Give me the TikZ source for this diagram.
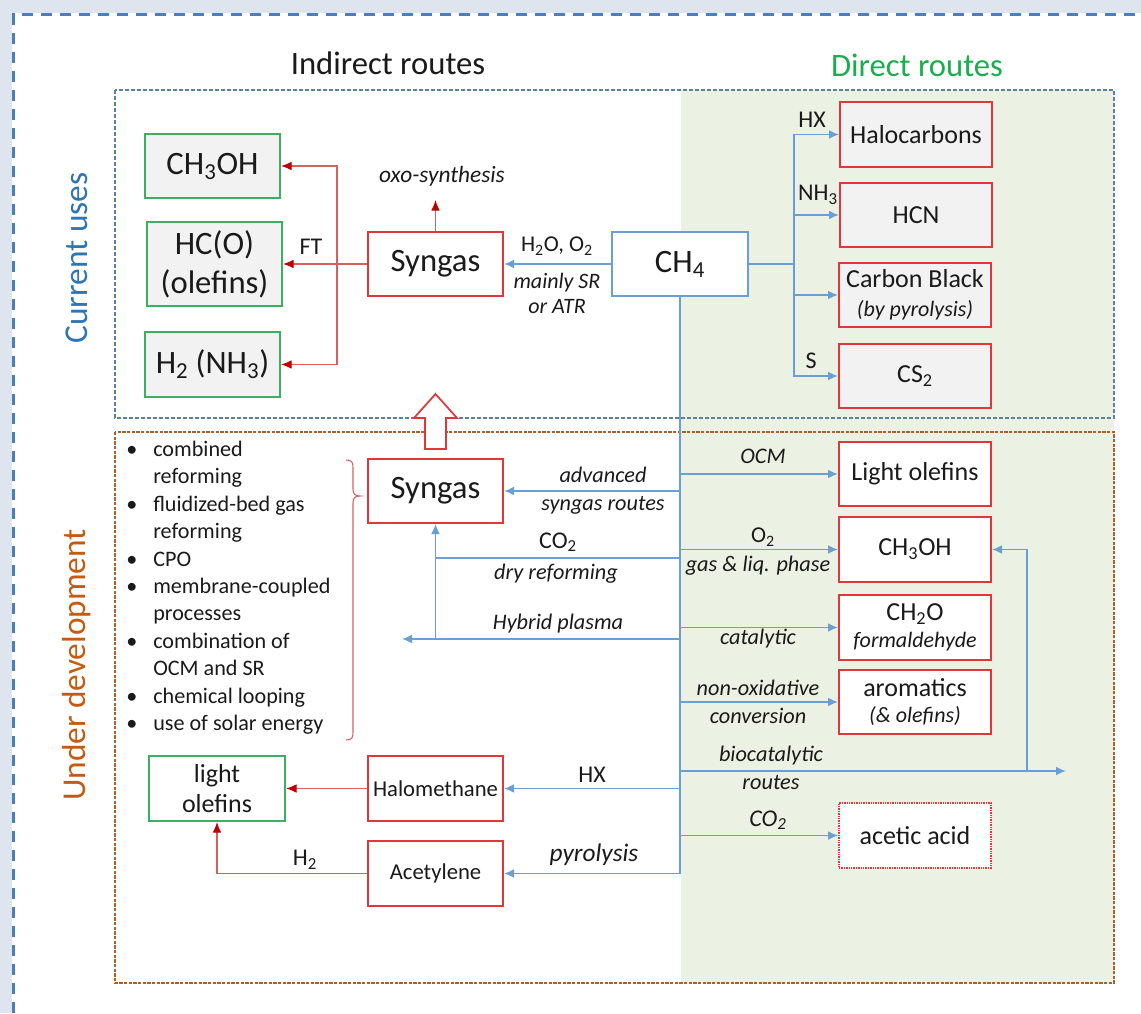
\documentclass[tikz,border=0pt]{standalone}
\usepackage{fontspec}
\setmainfont{Carlito}
\usetikzlibrary{arrows.meta}
\definecolor{bgout}{HTML}{DFE5EE}
\definecolor{shadeg}{HTML}{EBF1E3}
\definecolor{lblue}{HTML}{6A9FD6}
\definecolor{outerblue}{HTML}{4A7EBF}
\definecolor{cuframe}{HTML}{5A7FA8}
\definecolor{udframe}{HTML}{A8602E}
\definecolor{boxred}{HTML}{E0383A}
\definecolor{arrred}{HTML}{C00000}
\definecolor{lred}{HTML}{D66060}
\definecolor{boxgreen}{HTML}{3DAE63}
\definecolor{gfill}{HTML}{F2F2F2}
\definecolor{cublue}{HTML}{2E75B6}
\definecolor{udorange}{HTML}{C55A11}
\definecolor{drgreen}{HTML}{1AAE4E}
\definecolor{txt}{HTML}{1A1A1A}
\begin{document}
\begin{tikzpicture}[x=0.75pt,y=-0.75pt,
  every node/.style={text=txt},
  big/.style={font=\fontsize{24.5}{29}\selectfont},
  title/.style={font=\fontsize{24.5}{29}\selectfont},
  vlab/.style={font=\fontsize{25}{30}\selectfont, rotate=90},
  mid/.style={font=\fontsize{19.5}{23}\selectfont},
  sml/.style={font=\fontsize{18}{21}\selectfont},
  hal/.style={font=\fontsize{17}{20}\selectfont},
  ital/.style={font=\fontsize{16.7}{21}\selectfont\itshape},
  wh/.style 2 args={minimum width=#1*0.75pt, minimum height=#2*0.75pt},
  gbox/.style={draw=boxgreen, fill=gfill, line width=1.5pt, inner sep=0pt, align=center},
  gwbox/.style={gbox, fill=white},
  rbox/.style={draw=boxred, fill=white, line width=1.5pt, inner sep=0pt, align=center},
  rgbox/.style={rbox, fill=gfill},
  rdbox/.style={rbox, dash pattern=on 1pt off 0.8pt, line width=1.2pt},
  ch4box/.style={draw=lblue, fill=white, line width=1.5pt, inner sep=0pt, align=center},
  bline/.style={draw=lblue, line width=1.1pt},
  barr/.style={bline, -{Latex[length=7.5pt,width=6.5pt]}},
  rline/.style={draw=lred, line width=0.9pt},
  rarr/.style={rline, -{Latex[length=8pt,width=6.5pt,color=arrred]}},
  outerb/.style={draw=outerblue, line width=2.25pt, dash pattern=on 8.25pt off 6pt},
  cubox/.style={draw=cuframe, line width=0.8pt, dash pattern=on 3pt off 1.5pt},
  udbox/.style={draw=udframe, line width=0.9pt, dash pattern=on 2.5pt off 1pt}
]
\useasboundingbox (0,0) rectangle (1141,1013);
\fill[bgout] (0,0) rectangle (1141,1013);
\fill[white] (12,13) rectangle (1141,1013);
\draw[outerb] (13.5,1013) -- (13.5,14.5) -- (1141,14.5);
\fill[shadeg] (681,90) rectangle (1114,983);
\draw[cubox] (115,90) rectangle (1114,418);
\draw[udbox] (115,432) rectangle (1114,983);

% titles
\node[title] (tind) at (388,63) {Indirect routes};
\node[title, text=drgreen] (tdir) at (917,65) {Direct routes};
\node[vlab, text=cublue] (vcu) at (77,258) {Current uses};
\node[vlab, text=udorange] (vud) at (77,665) {Under development};

% current uses boxes
\node[gbox,wh={135}{64},big] (m1) at (212.5,166) {CH\textsubscript{3}OH};
\node[gbox,wh={135}{84},big] (hc) at (214.5,264) {HC(O)\\(olefins)};
\node[gbox,wh={135}{65},big] (h2) at (212.5,364.5) {H\textsubscript{2} (NH\textsubscript{3})};
\node[rbox,wh={135}{64},big] (s1) at (435.5,264) {Syngas};
\node[ch4box,wh={136}{64},big] (ch4) at (680,264) {CH\textsubscript{4}};
\node[rgbox,wh={152}{64},mid] (halo) at (916,134.5) {Halocarbons};
\node[rgbox,wh={152}{64},mid] (hcn) at (916,215) {HCN};
\node[rgbox,wh={152}{64},mid] (cb) at (915,295) {Carbon Black\\[-1pt]{\fontsize{16.5}{19}\selectfont\itshape (by pyrolysis)}};
\node[rgbox,wh={152}{64},mid] (cs2) at (915,376) {CS\textsubscript{2}};

% under development boxes
\node[rbox,wh={135}{64},big] (s2) at (435.5,491) {Syngas};
\node[rbox,wh={152}{64},mid] (lo1) at (915,474) {Light olefins};
\node[rbox,wh={152}{65},mid] (m2) at (915,549.5) {CH\textsubscript{3}OH};
\node[rbox,wh={152}{65},mid] (fa) at (915,627.5) {CH\textsubscript{2}O\\[-3pt]{\fontsize{16.5}{19}\selectfont\itshape formaldehyde}};
\node[rbox,wh={152}{64},mid] (aro) at (915,702) {aromatics\\[-3pt]{\fontsize{16.5}{19}\selectfont\itshape (\& olefins)}};
\node[rdbox,wh={152}{65},mid] (aa) at (915,835.5) {acetic acid};
\node[gwbox,wh={136}{65},mid] (lo2) at (217,788.5) {light\\olefins};
\node[rbox,wh={135}{65},hal] (hm) at (435.5,788.5) {Halomethane};
\node[rbox,wh={135}{65},hal] (ac) at (435.5,873.5) {Acetylene};

% bullet list
\node[anchor=west, inner sep=0pt, font=\fontsize{16.6}{20.6}\selectfont] (blist) at (126,588) {%
\begin{tabular}{@{}l@{\hspace{12pt}}l@{}}
\textbullet & combined\\
 & reforming\\
\textbullet & fluidized-bed gas\\
 & reforming\\
\textbullet & CPO\\
\textbullet & membrane-coupled\\
 & processes\\
\textbullet & combination of\\
 & OCM and SR\\
\textbullet & chemical looping\\
\textbullet & use of solar energy
\end{tabular}};

% brace
\draw[lred, line width=0.8pt] (346,460) .. controls (352,460) and (353,462) .. (353,468) -- (353,489) .. controls (353,494) and (355,496) .. (360,496) .. controls (355,496) and (353,498) .. (353,503) -- (353,732) .. controls (353,738) and (352,740) .. (346,740);

% hollow arrow
\draw[boxred, fill=white, line width=1.3pt] (425,449) -- (425,418) -- (414,418) -- (435.5,394) -- (457,418) -- (446,418) -- (446,449) -- cycle;

% top connectors
\coordinate (jt) at (337,264);
\draw[rline] (s1.west) -- (jt);
\draw[rarr] (jt) -- (hc.east);
\draw[rarr] (jt) |- (m1.east);
\draw[rarr] (jt) |- (h2.east);
\coordinate (oxo) at (435.5,200);
\draw[rarr] (s1.north) -- (oxo);
\draw[barr] (ch4.west) -- (s1.east);
\coordinate (jr) at (794,264);
\draw[bline] (ch4.east) -- (jr);
\draw[barr] (jr) |- (halo.west);
\draw[barr] (jr) |- (hcn.west);
\draw[barr] (jr) |- (cb.west);
\draw[barr] (jr) |- (cs2.west);

% vertical CH4 trunk
\draw[bline, line width=1.4pt] (ch4.south) -- (ch4.south |- ac.east);

% lower connectors
\draw[barr] (ch4.south |- lo1.west) -- (lo1.west);
\draw[barr] (ch4.south |- m2.west) -- (m2.west);
\draw[barr] (ch4.south |- fa.west) -- (fa.west);
\draw[barr] (ch4.south |- aro.west) -- (aro.west);
\draw[barr] (ch4.south |- aa.west) -- (aa.west);
\draw[barr] (ch4.south |- s2.east) -- (s2.east);
\coordinate (dr) at (681,558);
\coordinate (hp) at (681,639);
\coordinate (hpe) at (402,639);
\draw[bline] (ch4.south |- dr) -- (s2.south |- dr);
\draw[barr] (ch4.south |- hp) -- (hpe);
\draw[barr] (s2.south |- hp) -- (s2.south);
\coordinate (bio) at (1066,771);
\coordinate (fb) at (1027,771);
\draw[barr] (ch4.south |- bio) -- (bio);
\draw[barr] (fb) |- (m2.east);
\draw[barr] (ch4.south |- hm.east) -- (hm.east);
\draw[barr] (ch4.south |- ac.east) -- (ac.east);
\draw[rarr] (hm.west) -- (lo2.east);
\draw[rarr] (ac.west) -| (lo2.south);

% labels
\node[sml] (lft) at (311,247) {FT};
\node[font=\fontsize{17.5}{21}\selectfont\itshape] (loxo) at (442,176) {oxo-synthesis};
\node[font=\fontsize{17}{21}\selectfont] (lh2o) at (557,246) {H\textsubscript{2}O, O\textsubscript{2}};
\node[font=\fontsize{16.5}{19}\selectfont\itshape, align=center] (lsr) at (557,293.5) {mainly SR\\or ATR};
\node[sml] (lhx) at (812,120) {HX};
\node[sml] (lnh3) at (818,195) {NH\textsubscript{3}};
\node[sml] (ls) at (811,361) {S};

\node[ital, align=center] (ladv) at (603,491) {advanced\\syngas routes};
\node[sml] (lco2) at (558,542) {CO\textsubscript{2}};
\node[ital] (ldry) at (556,574) {dry reforming};
\node[ital] (lhyb) at (558,624) {Hybrid plasma};
\node[ital] (locm) at (763,456) {OCM};
\node[font=\fontsize{17}{21}\selectfont] (lo2l) at (763,537) {O\textsubscript{2}};
\node[ital] (lgas) at (758,566) {gas \& liq. phase};
\node[ital] (lcat) at (758,639) {catalytic};
\node[ital, align=center] (lnon) at (758,701.5) {non-oxidative\\conversion};
\node[ital, align=center] (lbio) at (771,767.5) {biocatalytic\\routes};
\node[sml] (lhx2) at (592,775) {HX};
\node[font=\fontsize{19}{22}\selectfont\itshape] (lpyr) at (594,855) {pyrolysis};
\node[font=\fontsize{18}{21}\selectfont\itshape] (lco2b) at (768,820) {CO\textsubscript{2}};
\node[sml] (lh2) at (305,860) {H\textsubscript{2}};
\end{tikzpicture}
\end{document}
